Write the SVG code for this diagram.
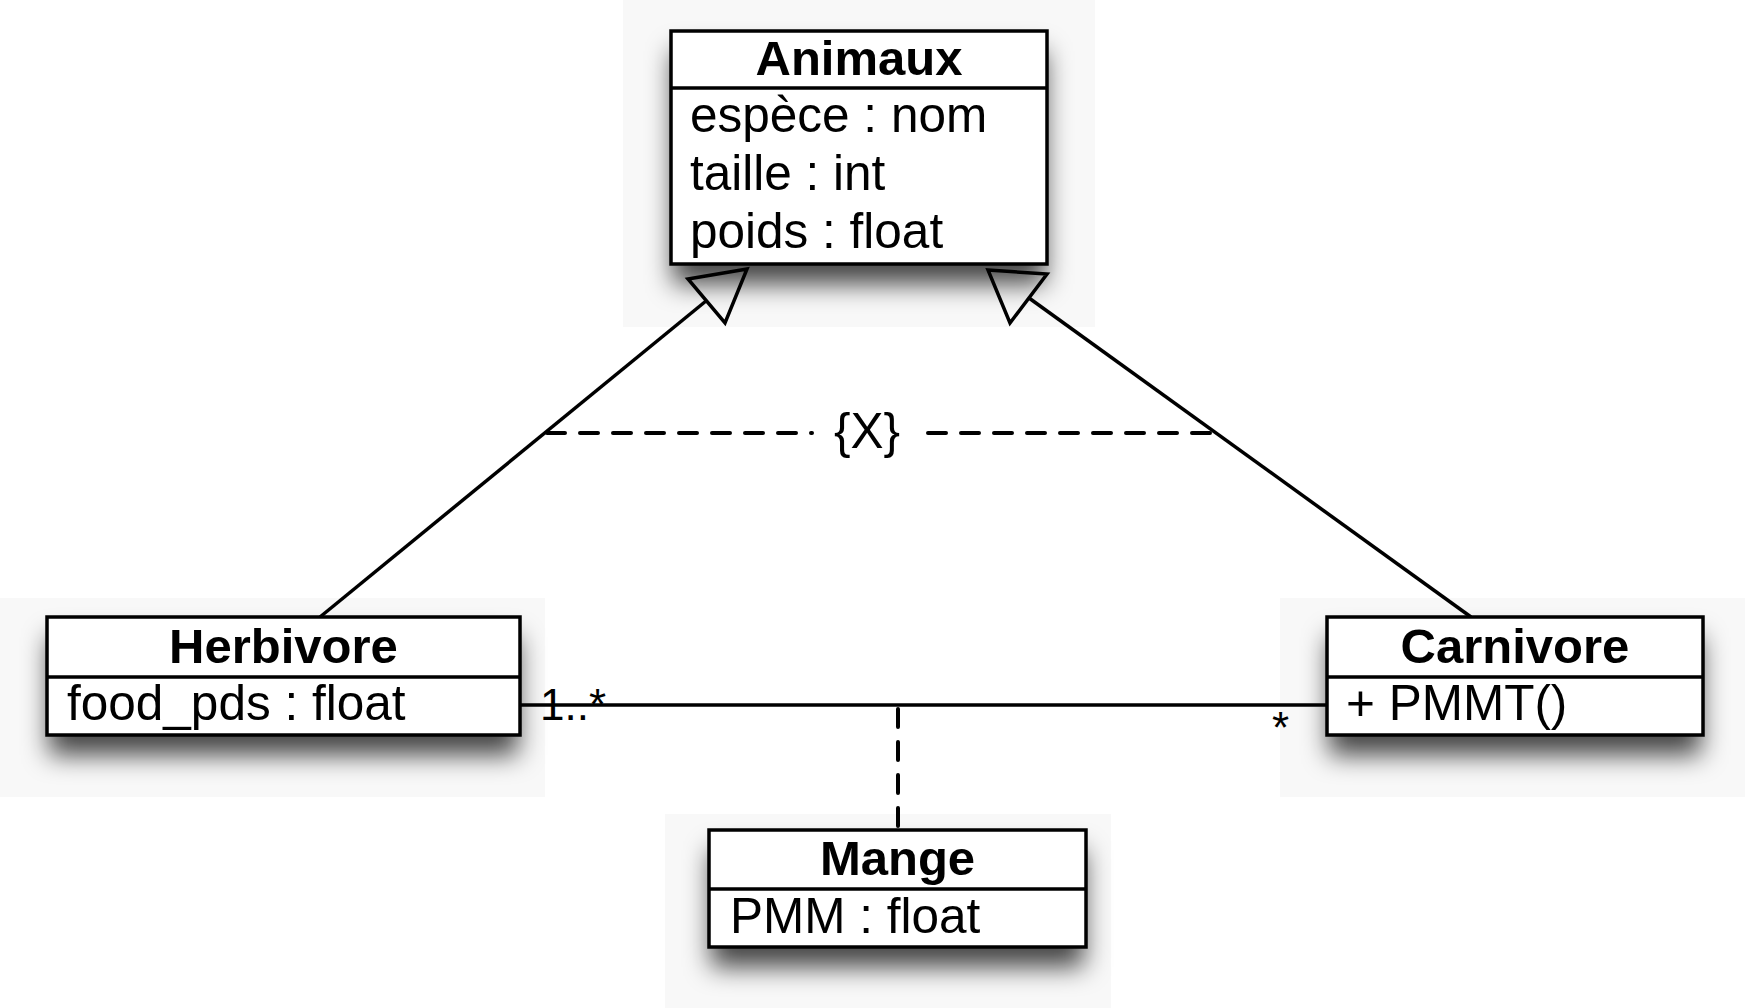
<svg xmlns="http://www.w3.org/2000/svg" width="1745" height="1008" viewBox="0 0 1745 1008">
  <defs>
    <filter id="blur" filterUnits="userSpaceOnUse" x="0" y="0" width="1745" height="1008">
      <feGaussianBlur stdDeviation="13"/>
    </filter>
  </defs>
  <style>
    .box { fill: #fff; stroke: #000; stroke-width: 3.5; }
    .shadow { fill: #000; fill-opacity: 0.72; filter: url(#blur); }
    .div { stroke: #000; stroke-width: 3.5; }
    .title { font-family: "Liberation Sans", Arial, sans-serif; font-weight: bold; font-size: 49px; text-anchor: middle; fill: #000; }
    .attr { font-family: "Liberation Sans", Arial, sans-serif; font-size: 49.5px; fill: #000; }
    .mult { font-family: "Liberation Sans", Arial, sans-serif; font-size: 44px; fill: #000; }
    .line { fill: none; stroke: #000; stroke-width: 3.5; }
    .dash { fill: none; stroke: #000; stroke-width: 4; stroke-dasharray: 18 15; stroke-linecap: round; }
    .bg { fill: #f8f8f8; }
  </style>
  <rect width="1745" height="1008" fill="#fff"/>
  <g id="backdrops">
    <rect class="bg" x="623" y="0" width="472" height="327"/>
    <rect class="bg" x="0" y="598" width="545" height="199"/>
    <rect class="bg" x="1280" y="598" width="465" height="199"/>
    <rect class="bg" x="665" y="814" width="446" height="194"/>
  </g>
  <g id="shadows">
    <rect class="shadow" x="673" y="51" width="372" height="233"/>
    <rect class="shadow" x="49" y="637" width="469" height="118"/>
    <rect class="shadow" x="1329" y="637" width="372" height="118"/>
    <rect class="shadow" x="711" y="850" width="373" height="117"/>
  </g>
  <g id="connectors">
    <line class="line" x1="320" y1="617" x2="706" y2="301"/>
    <polygon class="line" points="747,269 688,279 725,323"/>
    <line class="line" x1="1471" y1="617" x2="1029" y2="298"/>
    <polygon class="line" points="988,270 1047,274 1010,323"/>
    <line class="dash" x1="547" y1="433" x2="812" y2="433"/>
    <line class="dash" x1="928" y1="433" x2="1214" y2="433"/>
    <text x="867" y="448" class="attr" text-anchor="middle">{X}</text>
    <line class="line" x1="519" y1="705" x2="1327" y2="705"/>
    <line class="dash" x1="898" y1="709" x2="898" y2="828" stroke-dasharray="15 18"/>
    <text x="540" y="720" class="mult">1..*</text>
    <text x="1272" y="743" class="mult">*</text>
  </g>
  <g id="Animaux">
    <rect class="box" x="671" y="31" width="376" height="233"/>
    <line class="div" x1="671" y1="88" x2="1047" y2="88"/>
    <text class="title" x="859" y="75">Animaux</text>
    <text class="attr" x="690" y="132">espèce : nom</text>
    <text class="attr" x="690" y="190">taille : int</text>
    <text class="attr" x="690" y="248">poids : float</text>
  </g>
  <g id="Herbivore">
    <rect class="box" x="47" y="617" width="473" height="118"/>
    <line class="div" x1="47" y1="677" x2="520" y2="677"/>
    <text class="title" x="283.5" y="663">Herbivore</text>
    <text class="attr" x="67" y="720">food_pds : float</text>
  </g>
  <g id="Carnivore">
    <rect class="box" x="1327" y="617" width="376" height="118"/>
    <line class="div" x1="1327" y1="677" x2="1703" y2="677"/>
    <text class="title" x="1515" y="663">Carnivore</text>
    <text class="attr" x="1346" y="720">+ PMMT()</text>
  </g>
  <g id="Mange">
    <rect class="box" x="709" y="830" width="377" height="117"/>
    <line class="div" x1="709" y1="889" x2="1086" y2="889"/>
    <text class="title" x="897.5" y="875">Mange</text>
    <text class="attr" x="730" y="933">PMM : float</text>
  </g>
</svg>
